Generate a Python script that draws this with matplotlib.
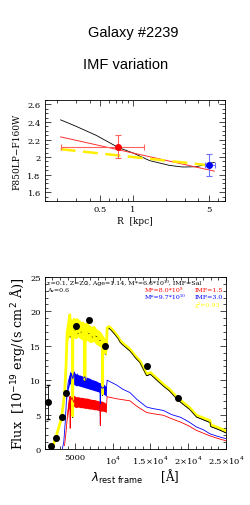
import numpy as np
import matplotlib
matplotlib.use('Agg')
from matplotlib import pyplot as plt
from matplotlib.ticker import MultipleLocator, FixedLocator, NullFormatter

# --- top panel: colour profile ---
r_model = [0.216, 0.3, 0.46, 0.73, 1.0, 1.42, 2.17, 2.87, 3.82, 5.6]
col_black = [2.424, 2.35, 2.247, 2.11, 2.047, 1.96, 1.905, 1.887, 1.89, 1.94]
r_line = [0.216, 5.6]
col_red = [2.23, 1.84]
col_yellow = [2.09, 1.90]

pt_r = [0.73, 5.0]
pt_col = [2.12, 1.91]
pt_yerr = [0.13, 0.13]
pt_xlo = [0.216, 4.55]
pt_xhi = [1.26, 5.7]

# --- bottom panel: SED ---
wl_y = [1900, 2400, 3200, 3600, 3800, 3950, 4100, 4300, 4350, 4400, 4500, 4670, 4680, 4700,
        4800, 5000, 5200, 5400, 5600, 5800, 6000, 6250, 6300, 6350, 6500, 6800, 7000, 7300,
        7500, 7800, 8000, 8300, 8500, 8640, 8650, 8660, 8800, 9000, 9150, 9250, 9500, 9800,
        10200, 10700, 10950, 11300, 12270, 13000, 13600, 14480, 15000, 15500, 16700, 17500,
        18600, 19500, 20200, 21100, 22000, 22900, 23000, 23500, 24200, 25000]
fl_y = [0.0, 1.5, 4.5, 8.0, 12.0, 17.0, 18.0, 19.5, 16.5, 18.5, 17.0, 17.5, 4.8, 17.8,
        18.5, 17.5, 18.8, 17.0, 18.5, 17.2, 17.8, 17.0, 10.1, 17.3, 18.0, 17.0, 17.4, 16.5,
        17.5, 16.6, 16.8, 16.0, 16.2, 15.6, 8.0, 15.5, 15.2, 14.0, 14.5, 17.6, 17.8, 17.5,
        17.0, 16.3, 15.8, 15.4, 14.5, 13.5, 12.8, 10.9, 11.1, 10.6, 9.4, 8.7,
        7.4, 6.6, 6.0, 4.9, 4.5, 4.1, 3.5, 3.3, 3.0, 2.6]
fl_k = [f - 0.25 for f in fl_y]

wl_b = [3300, 3500, 3700, 3900, 4100, 4300, 4400, 4500, 4700, 4900, 5100, 5300, 5500, 5700,
        6000, 6300, 6500, 6800, 7100, 7400, 7700, 8000, 8300, 8350, 8400, 8600, 8800, 9000,
        9150, 9250, 9600, 10500, 11300, 12270, 13200, 14480, 15200, 16700, 17800, 19000,
        20000, 21100, 22000, 22900, 24000, 25000]
fl_b = [0.0, 1.0, 4.0, 8.0, 9.8, 10.6, 9.6, 11.0, 10.2, 11.2, 10.4, 10.9, 10.0, 10.6,
        10.2, 10.5, 9.7, 10.1, 9.5, 9.9, 9.3, 9.5, 9.1, 3.5, 9.2, 8.8, 9.0, 8.5,
        8.7, 10.0, 9.8, 9.3, 8.7, 8.2, 7.2, 6.1, 5.9, 5.6, 5.0, 4.6,
        4.0, 3.2, 2.8, 2.2, 1.8, 1.5]

wl_r = [3600, 3800, 4000, 4200, 4300, 4350, 4400, 4600, 4800, 5000, 5300, 5600, 5900,
        6200, 6500, 6800, 7100, 7400, 7700, 8000, 8300, 8350, 8400, 8700, 9000, 9150,
        9250, 10500, 12270, 13200, 14480, 15500, 16700, 17800, 19000, 20000, 21100,
        22000, 22900, 24000, 25000]
fl_r = [0.5, 2.5, 5.0, 7.0, 7.6, 3.0, 7.0, 7.5, 6.8, 7.4, 7.0, 7.3, 6.7,
        7.1, 6.8, 7.0, 6.6, 6.9, 6.5, 6.8, 6.4, 3.4, 6.5, 6.2, 6.3, 6.0,
        7.6, 7.3, 7.0, 6.2, 5.3, 5.1, 4.9, 4.4, 3.9, 3.4, 2.7,
        2.3, 1.9, 1.5, 1.2]

# noise envelopes of the spectra in the optical part
wl_band = [3950, 4100, 4300, 4500, 4800, 5100, 5400, 5700, 6000, 6300, 6600, 6900, 7200,
           7500, 7800, 8100, 8400, 8700, 9000, 9150]
y_hi = [17.5, 18.5, 19.6, 18.8, 19.2, 18.6, 19.0, 18.5, 18.6, 18.3, 18.5, 18.0, 17.8,
        18.0, 17.5, 17.3, 17.0, 16.5, 16.0, 15.5]
y_lo = [15.5, 16.0, 16.5, 16.0, 16.2, 16.0, 16.3, 16.0, 15.8, 15.6, 15.8, 15.5, 15.5,
        15.6, 15.2, 15.0, 14.8, 14.5, 13.8, 13.5]
b_hi = [8.5, 10.0, 11.3, 11.0, 11.2, 10.9, 10.8, 10.7, 10.6, 10.5, 10.4, 10.3, 10.1,
        10.0, 9.9, 9.7, 9.6, 9.5, 9.2, 9.0]
b_lo = [7.0, 8.8, 9.5, 9.3, 9.4, 9.2, 9.2, 9.1, 9.0, 8.9, 8.8, 8.7, 8.6,
        8.5, 8.4, 8.3, 8.1, 8.0, 7.8, 7.6]
r_hi = [5.5, 7.0, 7.8, 7.7, 7.8, 7.6, 7.6, 7.5, 7.5, 7.4, 7.4, 7.3, 7.2,
        7.2, 7.1, 7.0, 7.0, 6.9, 6.7, 6.5]
r_lo = [4.0, 5.5, 6.2, 6.1, 6.2, 6.0, 6.1, 6.0, 6.0, 5.9, 5.9, 5.8, 5.8,
        5.7, 5.7, 5.6, 5.5, 5.5, 5.4, 5.3]

phot_wl = [1440, 1760, 2420, 3210, 3750, 5110, 6840, 8920, 14570, 18600]
phot_fl = [6.8, 0.45, 1.65, 4.6, 8.1, 17.9, 18.7, 15.0, 12.0, 7.4]
phot_err = [2.5, 0.3, 0.3, 0.3, 0.3, 0.3, 0.3, 0.3, 0.3, 0.3]

tick_family = 'DejaVu Serif'
tick_size = 6

fig = plt.figure(figsize=(2.51, 5.06), dpi=100)
fig.text(0.53, 0.934, 'Galaxy #2239', ha='center', va='center', family='Liberation Sans', fontsize=10.5)
fig.text(0.5, 0.871, 'IMF variation', ha='center', va='center', family='Liberation Sans', fontsize=10.5)

# top panel
ax1 = fig.add_axes([0.179, 0.6008, 0.717, 0.1996])
ax1.set_xscale('log')
ax1.plot(r_model, col_black, color='black', lw=0.6)
ax1.plot(r_line, col_red, color='#ff3030', lw=0.7)
ax1.plot(r_line, col_yellow, color='#ffee00', lw=1.8, dashes=(6, 3))
for i, c, ec in [(0, 'red', '#ff6060'), (1, 'blue', '#7070ff')]:
    ax1.errorbar([pt_r[i]], [pt_col[i]], yerr=[pt_yerr[i]],
                 xerr=[[pt_r[i] - pt_xlo[i]], [pt_xhi[i] - pt_r[i]]],
                 fmt='o', color=c, ecolor=ec, ms=4, elinewidth=0.8, capsize=2.5, capthick=0.8)
ax1.set_xlim(0.155, 7)
ax1.xaxis.set_major_locator(FixedLocator([0.5, 1, 5]))
ax1.set_xticklabels(['0.5', '1', '5'])
ax1.xaxis.set_minor_formatter(NullFormatter())
ax1.yaxis.set_major_locator(MultipleLocator(0.2))
ax1.yaxis.set_minor_locator(MultipleLocator(0.05))
ax1.set_ylim(1.5, 2.65)
ax1.yaxis.set_major_formatter(plt.FuncFormatter(lambda v, p: '%g' % round(v, 2)))
ax1.set_xlabel('R  [kpc]', family='DejaVu Serif', fontsize=6.5, labelpad=2)
ax1.set_ylabel('F850LP\u2212F160W', family='DejaVu Serif', fontsize=6.5, labelpad=4)

# bottom panel
ax2 = fig.add_axes([0.179, 0.1107, 0.721, 0.340])
ax2.fill_between(wl_band, r_lo, r_hi, color='red', lw=0, zorder=2)
ax2.fill_between(wl_band, b_lo, b_hi, color='blue', lw=0, zorder=2)
ax2.fill_between(wl_band, y_lo, y_hi, color='#ffff00', lw=0, zorder=2)
ax2.plot(wl_y, fl_k, color='black', lw=0.6, zorder=2)
ax2.plot(wl_y, fl_y, color='#ffff00', lw=2.0, zorder=3)
ax2.plot(wl_y[40:], fl_k[40:], color='black', lw=0.5, zorder=4)
ax2.plot(wl_b, fl_b, color='blue', lw=0.6, zorder=3)
ax2.plot(wl_r, fl_r, color='red', lw=0.6, zorder=3)
ax2.errorbar(phot_wl, phot_fl, yerr=phot_err, fmt='o', color='black', ms=4,
             elinewidth=0.6, capsize=1.5, zorder=5)
ax2.xaxis.set_major_locator(MultipleLocator(5000))
ax2.xaxis.set_minor_locator(MultipleLocator(1000))
ax2.yaxis.set_major_locator(MultipleLocator(5))
ax2.yaxis.set_minor_locator(MultipleLocator(1))
ax2.set_xticks([5000, 10000, 15000, 20000, 25000])
ax2.set_xticklabels(['5000', '10$^4$', '1.5\u00d710$^4$', '2\u00d710$^4$', '2.5\u00d710$^4$'])
ax2.set_xlim(1000, 25000)
ax2.set_ylim(0, 25)
ax2.set_xlabel('$\\lambda_{\\rm rest\\ frame}$     [\u00c5]', family='DejaVu Serif', fontsize=8.5, labelpad=1)
ax2.set_ylabel('Flux  [10$^{-19}$ erg/(s cm$^2$ \u00c5)]', family='DejaVu Serif', fontsize=9.2, labelpad=2)

fs = 4.5
row = [0.972, 0.929, 0.886, 0.843]
labels = [
    (0.01, row[0], '\u03c4=0.1, Z=Z\u2299, Age=1.14, M*=6.6*10\u00b9\u2070, IMF=Sal', 'black'),
    (0.01, row[1], 'A\u1d65=0.6', 'black'),
    (0.55, row[1], 'M*=8.0*10\u2079', 'red'),
    (0.83, row[1], 'IMF=1.5', 'red'),
    (0.55, row[2], 'M*=9.7*10\u00b9\u2070', 'blue'),
    (0.83, row[2], 'IMF=3.0', 'blue'),
    (0.83, row[3], '\u03c7\u00b2=0.93', '#ffff00'),
]
for x, y, s, c in labels:
    ax2.text(x, y, s, transform=ax2.transAxes, ha='left', va='center', fontsize=fs,
             family=['DejaVu Serif', 'DejaVu Sans'], color=c, clip_on=True)

for ax in (ax1, ax2):
    ax.tick_params(which='both', direction='in', top=True, right=True, width=0.5)
    ax.tick_params(which='major', length=4, pad=3)
    ax.tick_params(which='minor', length=2)
    for lab in ax.get_xticklabels() + ax.get_yticklabels():
        lab.set_family(tick_family)
        lab.set_fontsize(tick_size)
    for s in ax.spines.values():
        s.set_linewidth(0.6)

fig.savefig('out.png', dpi=100)
